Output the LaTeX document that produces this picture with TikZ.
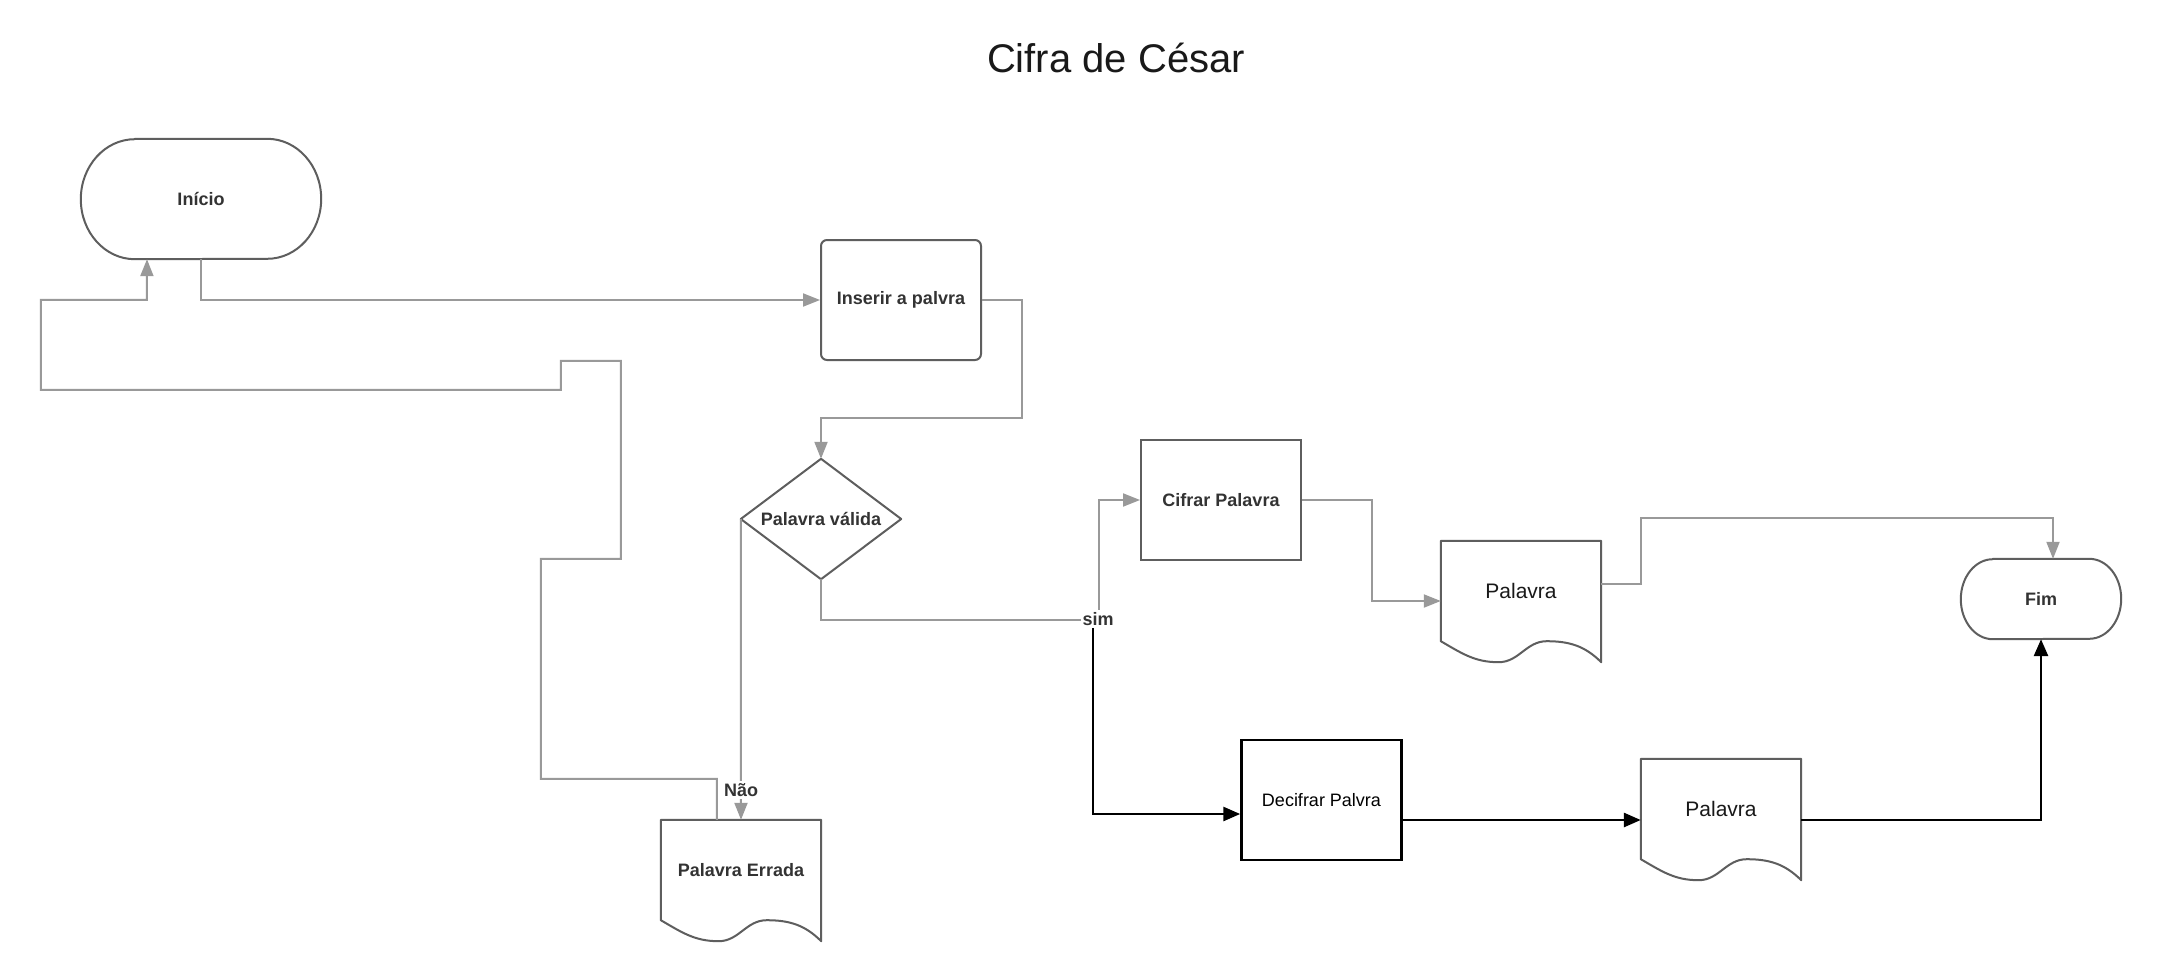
\documentclass[tikz,border=0pt]{standalone}
\usepackage{fontspec}
\setmainfont{Liberation Sans}
\usetikzlibrary{arrows.meta,calc}
\definecolor{shapegray}{HTML}{5E5E5E}
\definecolor{linegray}{HTML}{999999}
\definecolor{txt}{HTML}{333333}
\newcommand\boldlab{\fontsize{18}{22}\selectfont\bfseries}
\newcommand\reglab{\fontsize{18}{22}\selectfont}
\newcommand\doclab{\fontsize{21}{25}\selectfont}
\newcommand\docshape[1]{%
  \draw[shapeline] (#1.south west) -- (#1.north west) -- (#1.north east) -- ($(#1.south east)+(0,-21)$)
    to[out=135,in=0] ($(#1.south west)!0.66!(#1.south east)$)
    to[out=180,in=0] ($(#1.south west)!0.36!(#1.south east)+(0,-21)$)
    to[out=180,in=-30] (#1.south west) -- cycle;}
\newcommand\termshape[3]{%
  \draw[shapeline] ($(#1.north west)+(#2,0)$) -- ($(#1.north east)+(-#2,0)$)
    arc[start angle=90,end angle=-90,x radius=#2,y radius=#3]
    -- ($(#1.south west)+(#2,0)$)
    arc[start angle=270,end angle=90,x radius=#2,y radius=#3] -- cycle;}
\begin{document}
\begin{tikzpicture}[x=1pt,y=1pt,
  shapeline/.style={draw=shapegray,line width=2pt,line join=round},
  plain/.style={draw=none,inner sep=0pt,text=txt,font=\boldlab},
  proc/.style={draw=shapegray,line width=2pt,minimum width=160pt,minimum height=120pt,inner sep=0pt,text=txt,font=\boldlab},
  docbody/.style={draw=none,minimum width=160pt,minimum height=100pt,inner sep=0pt},
  conn/.style={draw=linegray,line width=2pt,-{Triangle[length=17pt,width=13pt]}},
  blk/.style={draw=black,line width=2.8pt,-{Triangle[length=17pt,width=14pt]}},
  lab/.style={font=\boldlab,text=txt,fill=white,inner sep=2pt}]
\fill[white] (0,0) rectangle (2161,-980);
\useasboundingbox (0,0) rectangle (2161,-980);

\node[font=\fontsize{40}{48}\selectfont,text=black!90] (title) at (1116,-58) {Cifra de César};

% shapes
\node[plain,minimum width=240pt,minimum height=120pt] (inicio) at (201,-199) {Início};
\termshape{inicio}{54}{60}
\node[proc,rounded corners=6pt] (inserir) at (901,-300) {Inserir a palvra};
\node[plain,minimum width=160pt,minimum height=120pt] (valida) at (821,-519) {Palavra válida};
\draw[shapeline] (valida.north) -- (valida.east) -- (valida.south) -- (valida.west) -- cycle;
\node[proc] (cifrar) at (1221,-500) {Cifrar Palavra};
\node[docbody,font=\doclab,text=black!90] (pal1) at (1521,-591) {Palavra};
\docshape{pal1}
\node[plain,minimum width=160pt,minimum height=80pt] (fim) at (2041,-599) {Fim};
\termshape{fim}{32}{40}
\node[proc,draw=black,line width=2.5pt,font=\reglab,text=black] (decifrar) at (1321.5,-800) {Decifrar Palvra};
\node[docbody,font=\doclab,text=black!90] (pal2) at (1721,-809) {Palavra};
\docshape{pal2}
\node[docbody,font=\boldlab,text=txt] (errada) at (741,-870) {Palavra Errada};
\docshape{errada}

% gray connectors
\draw[conn] (inicio.south) |- (inserir.west);
\draw[conn] (inserir.east) -- ++(40,0) -- ++(0,-118) -| (valida.north);
\draw[conn] (valida.south) -- ++(0,-41) -| ($(cifrar.west)+(-41,0)$) -- (cifrar.west);
\node[lab] (sim) at (1098,-619) {sim};
\draw[conn] (valida.west) -- (errada.north);
\node[lab] (nao) at (741,-790) {Não};
\draw[conn] ($(errada.north west)+(56,0)$) -- ++(0,41) -- ++(-176,0) -- ++(0,220) -- ++(80,0)
  -- ++(0,198) -- ++(-60,0) -- ++(0,-29) -- ++(-520,0) -- ++(0,90) -- ++(106,0)
  -- ($(inicio.south)+(-54,0)$);
\draw[conn] (cifrar.east) -- ++(70,0) |- ($(pal1.west)+(0,-10)$);
\draw[conn] ($(pal1.east)+(0,7)$) -- ++(40,0) |- ($(fim.north)+(12,41)$) -- ($(fim.north)+(12,0)$);

% black connectors
\draw[blk] ($(sim.south)+(-5,0)$) |- ($(decifrar.west)+(0,-14)$);
\draw[blk] ($(decifrar.east)+(0,-20)$) -- ($(pal2.west)+(0,-11)$);
\draw[blk] ($(pal2.east)+(0,-11)$) -| (fim.south);
\end{tikzpicture}
\end{document}
